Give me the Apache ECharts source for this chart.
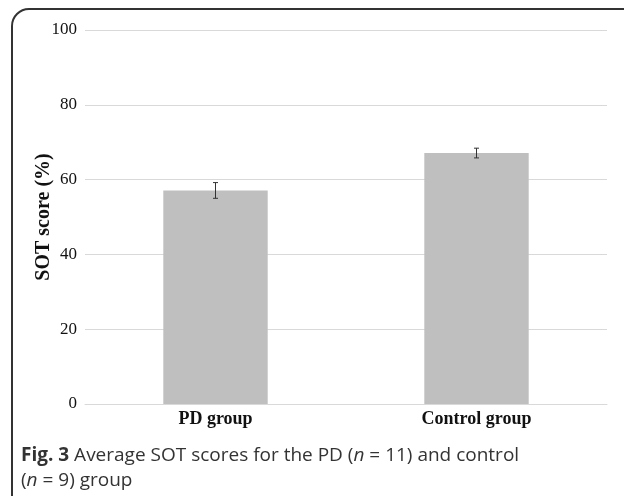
<!DOCTYPE html>
<html>
<head>
<meta charset="utf-8">
<script src="https://cdn.jsdelivr.net/npm/echarts@6/dist/echarts.min.js"></script>
<style>html,body{margin:0;padding:0;background:#fff}#c{width:624px;height:496px}</style>
</head>
<body>
<div id="c"></div>
<script>
const categories = ['PD group', 'Control group'];
const means = [57.1, 67.1];
const errors = [2.1, 1.3];
const yTicks = [0, 20, 40, 60, 80, 100];

const chart = echarts.init(document.getElementById('c'), null, {renderer: 'canvas'});
const serif = '"Liberation Serif", "DejaVu Serif", serif';
const sans = '"Open Sans", "Noto Sans", sans-serif';

chart.setOption({
  animation: false,
  grid: {left: 85, right: 17, top: 30, bottom: 92},
  xAxis: {
    type: 'category',
    data: categories,
    axisLine: {show: true, lineStyle: {color: '#d9d9d9', width: 1}},
    axisTick: {show: false},
    axisLabel: {color: '#111', fontFamily: serif, fontWeight: 'bold', fontSize: 18, margin: 6}
  },
  yAxis: {
    type: 'value',
    min: yTicks[0],
    max: yTicks[yTicks.length - 1],
    interval: 20,
    name: 'SOT score (%)',
    nameLocation: 'middle',
    nameGap: 31,
    nameMoveOverlap: false,
    nameRotate: 90,
    nameTextStyle: {color: '#111', fontFamily: serif, fontWeight: 'bold', fontSize: 20},
    axisLine: {show: false},
    axisTick: {show: false},
    axisLabel: {color: '#111', fontFamily: serif, fontSize: 17, margin: 8},
    splitLine: {lineStyle: {color: '#d9d9d9', width: 1}}
  },
  series: [
    {
      type: 'bar',
      data: means,
      barWidth: '40%',
      itemStyle: {color: '#bfbfbf'},
      z: 2
    },
    {
      type: 'custom',
      z: 3,
      data: means.map((m, i) => [i, m - errors[i], m + errors[i]]),
      renderItem: function (params, api) {
        const lo = api.coord([api.value(0), api.value(1)]);
        const hi = api.coord([api.value(0), api.value(2)]);
        const w = 2.5;
        const st = {stroke: '#333', lineWidth: 1};
        return {
          type: 'group',
          children: [
            {type: 'line', shape: {x1: hi[0], y1: hi[1], x2: lo[0], y2: lo[1]}, style: st},
            {type: 'line', shape: {x1: hi[0] - w, y1: hi[1], x2: hi[0] + w, y2: hi[1]}, style: st},
            {type: 'line', shape: {x1: lo[0] - w, y1: lo[1], x2: lo[0] + w, y2: lo[1]}, style: st}
          ]
        };
      }
    }
  ],
  graphic: [
    {
      type: 'line',
      shape: {x1: 12, y1: 26, x2: 12, y2: 500},
      style: {stroke: '#333', lineWidth: 2}
    },
    {
      type: 'line',
      shape: {x1: 29, y1: 9, x2: 630, y2: 9},
      style: {stroke: '#333', lineWidth: 2}
    },
    {
      type: 'arc',
      shape: {cx: 29, cy: 26, r: 17, startAngle: Math.PI, endAngle: Math.PI * 1.5, clockwise: true},
      style: {stroke: '#333', lineWidth: 2, fill: null}
    },
    {
      type: 'text',
      left: 21,
      top: 443,
      style: {
        text: '{b|Fig. 3} Average SOT scores for the PD ({i|n} = 11) and control\n({i|n} = 9) group',
        fontFamily: sans,
        fontSize: 19,
        lineHeight: 25,
        fill: '#333',
        rich: {
          b: {fontFamily: sans, fontSize: 19, fontWeight: 'bold', fill: '#333', lineHeight: 25},
          i: {fontFamily: sans, fontSize: 19, fontStyle: 'italic', fill: '#333', lineHeight: 25}
        }
      }
    }
  ]
});
</script>
</body>
</html>
